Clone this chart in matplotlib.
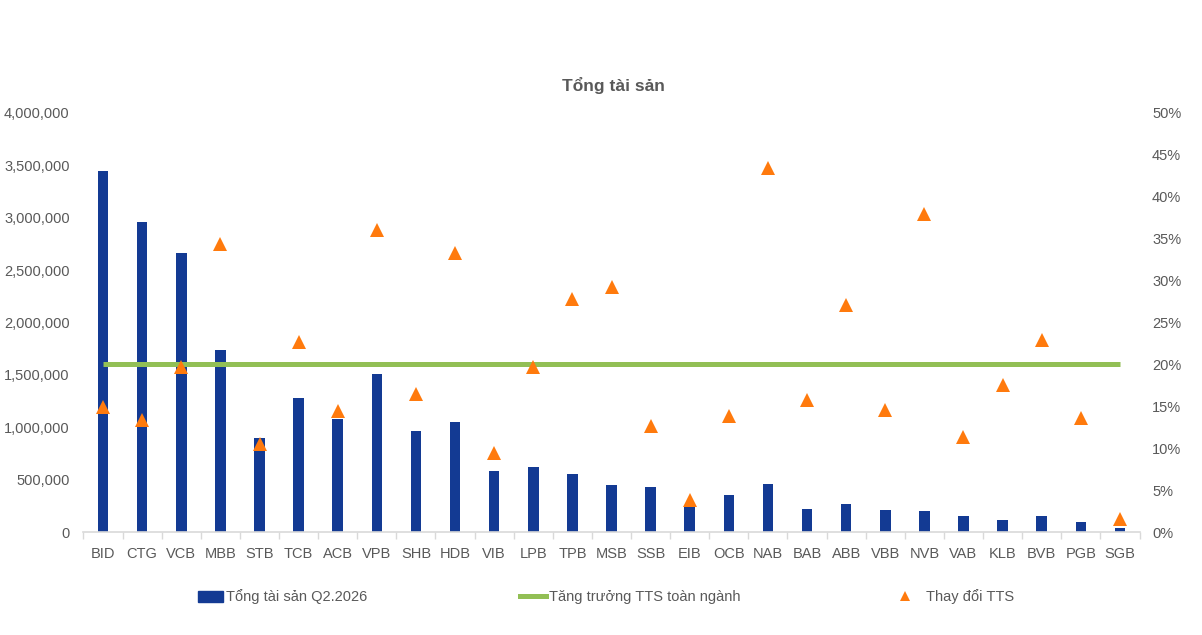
import numpy as np
import matplotlib.pyplot as plt
from matplotlib.lines import Line2D
from matplotlib.patches import Patch
from matplotlib.ticker import FuncFormatter, MultipleLocator

#** DỮ LIỆU **
ngan_hang = ['BID', 'CTG', 'VCB', 'MBB', 'STB', 'TCB', 'ACB', 'VPB', 'SHB', 'HDB',
             'VIB', 'LPB', 'TPB', 'MSB', 'SSB', 'EIB', 'OCB', 'NAB', 'BAB', 'ABB',
             'VBB', 'NVB', 'VAB', 'KLB', 'BVB', 'PGB', 'SGB']
tong_tai_san = [3445000, 2960000, 2663000, 1737000, 894000, 1276000, 1076000, 1508000,
                964000, 1050000, 582000, 620000, 553000, 446000, 430000, 242000,
                353000, 455000, 217000, 264000, 210000, 200000, 156000, 115000,
                150000, 95000, 41000]
thay_doi_tts = [14.9, 13.4, 19.7, 34.4, 10.5, 22.7, 14.4, 36.0, 16.5, 33.3,
                9.4, 19.7, 27.8, 29.2, 12.6, 3.8, 13.8, 43.4, 15.8, 27.1,
                14.6, 38.0, 11.3, 17.6, 22.9, 13.6, 1.5]
tang_truong_nganh = 20.1

# cores
AZUL = '#133a93'
LARANJA = '#ff7a0d'
VERDE = '#92bf55'
CINZA = '#595959'
FS = 10.5

plt.rcParams['font.family'] = ['Liberation Sans', 'DejaVu Sans']

fig = plt.figure(figsize=(12.02, 6.35), dpi=100)
ax = fig.add_axes([83.5 / 1202, 1 - 532 / 635, (1139.5 - 83.5) / 1202, (532 - 113) / 635])
ax2 = ax.twinx()

x = np.arange(len(ngan_hang))
ax.bar(x, tong_tai_san, width=0.27, color=AZUL, zorder=2)
ax2.plot([x[0], x[-1]], [tang_truong_nganh, tang_truong_nganh], color=VERDE, lw=3.6,
         solid_capstyle='butt', zorder=3)
ax2.plot(x, thay_doi_tts, ls='none', marker='^', ms=10.5, color=LARANJA,
         markeredgewidth=0, zorder=4)

ax.set_xlim(-0.5, len(ngan_hang) - 0.5)
ax.set_ylim(0, 4000000)
ax2.set_ylim(0, 50)
ax.yaxis.set_major_locator(MultipleLocator(500000))
ax2.yaxis.set_major_locator(MultipleLocator(5))
ax.yaxis.set_major_formatter(FuncFormatter(lambda v, p: f'{v:,.0f}'))
ax2.yaxis.set_major_formatter(FuncFormatter(lambda v, p: f'{v:.0f}%'))

ax.set_xticks(x)
ax.set_xticklabels(ngan_hang)
ax.set_xticks(np.arange(-0.5, len(ngan_hang)), minor=True)
ax.tick_params(axis='x', which='major', length=0, pad=11, labelsize=FS, labelcolor=CINZA)
ax.tick_params(axis='x', which='minor', length=5, color='#d9d9d9', width=1)
ax.tick_params(axis='y', length=0, pad=10, labelsize=FS, labelcolor=CINZA)
ax2.tick_params(axis='y', length=0, pad=9, labelsize=FS, labelcolor=CINZA)

for a in (ax, ax2):
    for s in ('top', 'right', 'left'):
        a.spines[s].set_visible(False)
ax2.spines['bottom'].set_visible(False)
ax.spines['bottom'].set_color('#d9d9d9')
ax.spines['bottom'].set_linewidth(1.2)

fig.text(613 / 1202, 1 - 85 / 635, 'Tổng tài sản', ha='center', va='center',
         fontsize=12.5, fontweight='bold', color=CINZA)

# legendas separadas
leg_kw = dict(frameon=False, fontsize=FS, labelcolor=CINZA, loc='center left',
              borderpad=0, borderaxespad=0)
fig.legend([Patch(color=AZUL)], ['Tổng tài sản Q2.2026'],
           bbox_to_anchor=(198 / 1202, 1 - 597 / 635), handlelength=1.7,
           handleheight=0.75, handletextpad=0.2, **leg_kw)
fig.legend([Line2D([], [], color=VERDE, lw=3.6)], ['Tăng trưởng TTS toàn ngành'],
           bbox_to_anchor=(520 / 1202, 1 - 597 / 635), handlelength=1.8,
           handletextpad=0.2, **leg_kw)
fig.legend([Line2D([], [], ls='none', marker='^', ms=7, color=LARANJA, markeredgewidth=0)],
           ['Thay đổi TTS'], bbox_to_anchor=(890 / 1202, 1 - 597 / 635),
           handlelength=2.0, handletextpad=0.5, **leg_kw)

fig.savefig('out.png', dpi=100)
